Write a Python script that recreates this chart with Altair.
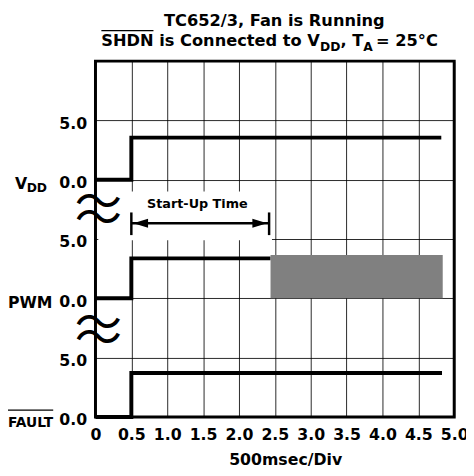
import altair as alt
import pandas as pd

# ---------------- data ----------------
x_ticks = [0, 0.5, 1.0, 1.5, 2.0, 2.5, 3.0, 3.5, 4.0, 4.5, 5.0]
y_ticks = [0, 5, 10, 15, 20, 25]
y_tick_labels = ["0.0", "5.0", "0.0", "5.0", "0.0", "5.0"]

lane_names = ["VDD", "PWM", "FAULT"]
lane_base = [20, 10, 0]          # each trace sits on its own 0.0 gridline

vdd_t = [0.0, 0.5, 0.5, 4.82]
vdd_v = [0.0, 0.0, 3.55, 3.55]
pwm_t = [0.0, 0.5, 0.5, 2.44]
pwm_v = [0.0, 0.0, 3.37, 3.37]
fault_t = [0.0, 0.5, 0.5, 4.83]
fault_v = [0.0, 0.0, 3.7, 3.7]

pwm_box_t = [2.44, 4.84]
pwm_box_v = [0.0, 3.65]

startup_t = [0.5, 2.42]
startup_bar_y = [15.33, 17.24]
startup_arrow_y = 16.33
startup_label = "Start-Up Time"
startup_label_t = 1.42
startup_label_y = 17.98
startup_mask_t = [0.04, 2.46]
startup_mask_y = [14.9, 19.0]

break_y = [17.9, 16.6, 7.7, 6.45]

title_line1 = "TC652/3, Fan is Running"
title_line2 = ["SHDN is Connected to V", "DD", ", T", "A", " = 25°C"]

x_title = "500msec/Div"

# ---------------- helpers ----------------
FONT = "DejaVu Sans"
W, H = 365, 362
XS = alt.Scale(domain=[0, 5], nice=False, zero=False)
YS = alt.Scale(domain=[0, 30], nice=False, zero=False)

rows = []
for name, base, ts, vs in zip(lane_names, lane_base,
                               [vdd_t, pwm_t, fault_t],
                               [vdd_v, pwm_v, fault_v]):
    for i, (t, v) in enumerate(zip(ts, vs)):
        rows.append({"sig": name, "i": i, "t": t, "y": base + v})
lines_df = pd.DataFrame(rows)

y_label_expr = " : ".join(
    f"datum.value == {v} ? '{l}'" for v, l in zip(y_ticks, y_tick_labels)
) + " : ''"

x_axis = alt.Axis(values=x_ticks, labelExpr="datum.value == 0 ? '0' : format(datum.value, '.1f')",
                  title=x_title, labelFontSize=16, labelPadding=10, titleFontSize=16,
                  titlePadding=9, titleX=193, titleAlign="center", labelFlush=False)
y_axis = alt.Axis(values=y_ticks, labelExpr=y_label_expr, title=None, labelFontSize=16,
                  labelPadding=9, labelOffset=3)


def X(field="t"):
    return alt.X(f"{field}:Q", scale=XS, axis=x_axis, title=x_title)


def Y(field="y"):
    return alt.Y(f"{field}:Q", scale=YS, axis=y_axis, title=None)


lines = alt.Chart(lines_df).mark_line(color="black", strokeWidth=4, strokeCap="butt",
                                      strokeJoin="miter").encode(
    x=X(), y=Y(), detail="sig:N", order="i:Q",
)

box_df = pd.DataFrame({"t": [pwm_box_t[0]], "t2": [pwm_box_t[1]],
                       "y": [lane_base[1] + pwm_box_v[0]], "y2": [lane_base[1] + pwm_box_v[1]]})
box = alt.Chart(box_df).mark_rect(color="#808080").encode(x=X(), x2="t2", y=Y(), y2="y2")

mask_df = pd.DataFrame({"t": [startup_mask_t[0]], "t2": [startup_mask_t[1]],
                        "y": [startup_mask_y[0]], "y2": [startup_mask_y[1]]})
mask = alt.Chart(mask_df).mark_rect(color="white").encode(x=X(), x2="t2", y=Y(), y2="y2")

bars_df = pd.DataFrame({"t": startup_t, "y": [startup_bar_y[0]] * 2, "y2": [startup_bar_y[1]] * 2})
bars = alt.Chart(bars_df).mark_rule(color="black", strokeWidth=2.5).encode(x=X(), y=Y(), y2="y2")

shaft_df = pd.DataFrame({"t": [startup_t[0]], "t2": [startup_t[1]], "y": [startup_arrow_y]})
shaft = alt.Chart(shaft_df).mark_rule(color="black", strokeWidth=2.5).encode(x=X(), x2="t2", y=Y())

head_l = alt.Chart(pd.DataFrame({"t": [startup_t[0]], "y": [startup_arrow_y]})).mark_point(
    shape="M0,0L2,-0.6L2,0.6Z", size=225, filled=True, color="black", opacity=1, xOffset=2).encode(
    x=X(), y=Y())
head_r = alt.Chart(pd.DataFrame({"t": [startup_t[1]], "y": [startup_arrow_y]})).mark_point(
    shape="M0,0L-2,-0.6L-2,0.6Z", size=225, filled=True, color="black", opacity=1, xOffset=-2).encode(
    x=X(), y=Y())

su_text = alt.Chart(pd.DataFrame({"t": [startup_label_t], "y": [startup_label_y], "s": [startup_label]})).mark_text(
    font=FONT, fontWeight="bold", fontSize=13, color="black", baseline="middle", align="center").encode(
    x=X(), y=Y(), text="s:N")

waves = alt.Chart(pd.DataFrame({"y": break_y, "s": ["\u301c"] * len(break_y)})).mark_text(
    font="Noto Sans CJK SC", fontSize=48, color="black", baseline="middle", align="center", dx=3).encode(
    x=alt.value(0), y=Y(), text="s:N")


# signal names at the left
def side_text(txt, xpx, yval, size, dy):
    return alt.Chart(pd.DataFrame({"y": [yval], "s": [txt]})).mark_text(
        font=FONT, fontWeight="bold", fontSize=size, color="black", align="left",
        baseline="alphabetic", dy=dy).encode(
        x=alt.value(xpx), y=Y(), text="s:N")


names = [
    side_text("V", -82, lane_base[0], 16, 9),
    side_text("DD", -70, lane_base[0], 12.5, 13),
    side_text(lane_names[1], -89, lane_base[1], 16, 10),
    side_text(lane_names[2], -89, lane_base[2], 14, 10),
]
fault_bar = alt.Chart(pd.DataFrame({"a": [0]})).mark_rule(color="black", strokeWidth=1.3).encode(
    x=alt.value(-89), x2=alt.value(-43), y=alt.value(H - 7))


# title
def title_text(txt, xpx, ypx, size, align="left"):
    return alt.Chart(pd.DataFrame({"s": [txt]})).mark_text(
        font=FONT, fontWeight="bold", fontSize=size, color="black", align=align,
        baseline="alphabetic").encode(x=alt.value(xpx), y=alt.value(ypx), text="s:N")


tfs, sfs = 16.5, 12.5
titles = [title_text(title_line1, 182, -36, tfs, "center")]
xs = [6, 228.4, 249.2, 272.5, 285.5]
for k, (part, xp) in enumerate(zip(title_line2, xs)):
    sub = k in (1, 3)
    titles.append(title_text(part, xp, -10 if sub else -15, sfs if sub else tfs))
shdn_bar = alt.Chart(pd.DataFrame({"a": [0]})).mark_rule(color="black", strokeWidth=1.3).encode(
    x=alt.value(6), x2=alt.value(59), y=alt.value(-31))

chart = alt.layer(
    lines, mask, box, bars, shaft, head_l, head_r, su_text, waves, *names, fault_bar, *titles, shdn_bar
).properties(
    width=W, height=H,
    autosize=alt.AutoSizeParams(type="none"),
    padding={"left": 89, "top": 50, "right": 12, "bottom": 52},
).configure_view(
    stroke="black", strokeWidth=3
).configure_axis(
    domain=False, ticks=False, grid=True, gridColor="#000", gridWidth=1, gridOpacity=0.85,
    labelFont=FONT, labelFontWeight="bold", labelColor="black",
    titleFont=FONT, titleFontWeight="bold", titleColor="black",
)

chart.save("out.html", embed_options={"renderer": "svg", "actions": False})
